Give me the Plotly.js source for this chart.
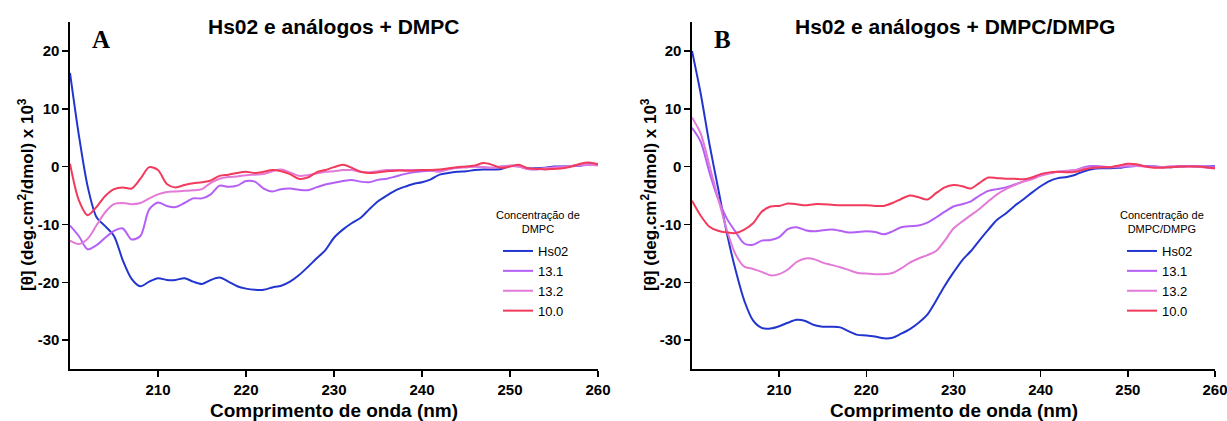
<!DOCTYPE html>
<html>
<head>
<meta charset="utf-8">
<script src="https://cdn.plot.ly/plotly-3.0.1.min.js"></script>
<style>html,body{margin:0;padding:0;background:#fff;}#chart{width:1227px;height:421px;}</style>
</head>
<body>
<div id="chart"></div>
<script>
// Wavelength (nm)
const wavelength = [200,201,202,203,204,205,206,207,208,209,210,211,212,213,214,215,216,217,218,219,220,221,222,223,224,225,226,227,228,229,230,231,232,233,234,235,236,237,238,239,240,241,242,243,244,245,246,247,248,249,250,251,252,253,254,255,256,257,258,259,260];

// Panel A: Hs02 e análogos + DMPC
const A_Hs02 = [16.2,5.5,-3.4,-8.7,-10.3,-12.0,-16.2,-19.4,-20.7,-19.9,-19.3,-19.6,-19.6,-19.3,-19.9,-20.3,-19.6,-19.2,-19.9,-20.7,-21.1,-21.3,-21.3,-20.9,-20.6,-19.9,-18.8,-17.4,-15.9,-14.5,-12.3,-10.9,-9.8,-8.9,-7.4,-6.0,-5.0,-4.1,-3.5,-3.0,-2.7,-2.2,-1.4,-1.1,-0.9,-0.8,-0.6,-0.5,-0.5,-0.4,0.1,0.1,-0.3,-0.3,-0.2,0.0,0.0,0.1,0.2,0.4,0.3];
const A_131 = [-10.2,-12.0,-14.3,-13.6,-12.3,-11.1,-10.7,-12.6,-12.0,-7.4,-6.2,-6.8,-7.0,-6.3,-5.5,-5.5,-4.8,-3.3,-3.5,-3.3,-2.5,-2.6,-3.8,-4.3,-3.9,-3.8,-4.0,-4.1,-3.6,-3.1,-2.8,-2.5,-2.3,-2.6,-2.7,-2.3,-2.1,-1.7,-1.3,-1.0,-0.8,-0.7,-0.8,-0.4,-0.2,-0.1,0.0,-0.1,-0.2,0.0,0.1,0.0,-0.4,-0.5,-0.3,-0.1,0.0,0.1,0.2,0.3,0.3];
const A_132 = [-12.8,-13.4,-12.5,-10.2,-7.9,-6.5,-6.3,-6.5,-6.3,-5.5,-4.8,-4.4,-4.3,-4.2,-4.1,-3.9,-2.8,-2.1,-1.8,-1.7,-1.5,-1.4,-1.3,-0.8,-0.5,-1.0,-1.6,-1.5,-1.2,-0.9,-0.8,-0.6,-0.6,-0.9,-1.0,-0.8,-0.6,-0.6,-0.6,-0.6,-0.6,-0.7,-0.9,-0.5,-0.2,-0.1,0.0,-0.1,-0.2,0.0,0.2,0.0,-0.4,-0.4,-0.3,-0.2,-0.1,0.1,0.3,0.3,0.2];
const A_100 = [0.5,-5.8,-8.4,-7.0,-5.1,-3.9,-3.6,-3.8,-2.1,-0.1,-0.6,-3.0,-3.6,-3.2,-2.9,-2.7,-2.4,-1.6,-1.4,-1.1,-0.9,-1.1,-0.9,-0.6,-0.8,-1.3,-2.1,-1.9,-1.0,-0.6,-0.1,0.3,-0.2,-0.9,-1.1,-1.0,-0.8,-0.7,-0.7,-0.7,-0.6,-0.6,-0.5,-0.3,-0.1,0.0,0.2,0.6,0.3,-0.2,0.0,0.3,-0.3,-0.4,-0.5,-0.4,-0.3,0.0,0.5,0.7,0.4];

// Panel B: Hs02 e análogos + DMPC/DMPG
const B_Hs02 = [20.0,12.6,3.9,-3.8,-11.5,-17.9,-23.2,-26.6,-27.9,-28.0,-27.6,-27.0,-26.5,-26.7,-27.4,-27.7,-27.7,-27.8,-28.5,-29.1,-29.2,-29.4,-29.7,-29.6,-28.9,-28.1,-27.0,-25.6,-23.2,-20.6,-18.3,-16.2,-14.6,-12.7,-10.9,-9.2,-8.1,-6.8,-5.7,-4.5,-3.4,-2.5,-2.0,-1.8,-1.4,-0.8,-0.4,-0.3,-0.3,-0.2,0.0,0.1,0.1,0.0,-0.1,-0.1,0.0,0.1,0.0,0.0,0.1];
const B_131 = [6.7,4.3,-1.0,-5.6,-9.0,-11.3,-13.3,-13.5,-12.8,-12.7,-12.2,-10.8,-10.5,-11.0,-11.2,-11.0,-10.9,-11.1,-11.4,-11.3,-11.2,-11.3,-11.7,-11.2,-10.5,-10.3,-10.2,-9.7,-8.8,-7.8,-6.9,-6.5,-6.0,-5.0,-4.2,-3.9,-3.6,-3.1,-2.6,-1.9,-1.4,-1.1,-0.9,-0.8,-0.6,-0.1,0.1,0.0,-0.1,-0.1,0.0,0.2,0.1,0.0,-0.1,0.0,0.1,0.1,0.0,0.0,0.0];
const B_132 = [8.5,5.7,0.2,-5.5,-11.0,-15.2,-17.3,-17.7,-18.2,-18.8,-18.6,-17.8,-16.5,-15.9,-16.0,-16.6,-17.0,-17.4,-17.9,-18.4,-18.5,-18.6,-18.6,-18.4,-17.6,-16.6,-15.9,-15.3,-14.6,-12.8,-10.7,-9.5,-8.4,-7.3,-6.0,-4.8,-3.9,-3.2,-2.6,-2.2,-1.6,-1.2,-0.9,-0.7,-0.6,-0.3,-0.2,-0.1,-0.1,0.1,0.2,0.1,0.0,-0.1,-0.1,0.0,0.0,0.0,0.0,-0.2,-0.3];
const B_100 = [-5.9,-8.5,-10.4,-11.1,-11.4,-11.5,-10.9,-9.8,-7.8,-6.9,-6.8,-6.4,-6.5,-6.7,-6.5,-6.5,-6.6,-6.7,-6.7,-6.7,-6.7,-6.8,-6.8,-6.3,-5.6,-5.0,-5.3,-5.7,-4.6,-3.6,-3.2,-3.4,-3.8,-2.8,-1.9,-2.0,-2.1,-2.1,-2.2,-1.9,-1.3,-1.0,-0.9,-1.0,-0.9,-0.5,-0.2,-0.1,-0.1,0.2,0.5,0.4,0.0,-0.2,-0.2,-0.1,0.0,0.0,0.0,-0.1,-0.3];

const seriesNames = ["Hs02","13.1","13.2","10.0"];
const seriesColors = ["#2236cf","#b560f5","#e47ad8","#f23a5c"];
const xTicks = [210,220,230,240,250,260];
const xTickText = ["210","220","230","240","250","260"];
const yTicks = [-30,-20,-10,0,10,20];
const yTickText = ["-30","-20","-10","0","10","20"];

const panelA = [A_Hs02, A_131, A_132, A_100];
const panelB = [B_Hs02, B_131, B_132, B_100];

const traces = [];
panelA.forEach((ys, i) => traces.push({
  x: wavelength, y: ys, type: "scatter", mode: "lines", name: seriesNames[i],
  line: {color: seriesColors[i], width: 2, shape: "spline", smoothing: 0.8},
  xaxis: "x", yaxis: "y", legend: "legend"
}));
panelB.forEach((ys, i) => traces.push({
  x: wavelength, y: ys, type: "scatter", mode: "lines", name: seriesNames[i],
  line: {color: seriesColors[i], width: 2, shape: "spline", smoothing: 0.8},
  xaxis: "x2", yaxis: "y2", legend: "legend2"
}));

const W = 1227, H = 421;
const px = v => v / W;
const py = v => 1 - v / H;

const tickFont = {family: "Liberation Sans, Arial", size: 15, color: "#000", weight: "bold"};
const axisCommon = {
  showline: true, linecolor: "#000", linewidth: 1.6, mirror: false,
  ticks: "outside", ticklen: 6, tickwidth: 1.5, tickcolor: "#000",
  showgrid: false, zeroline: false, tickfont: tickFont, fixedrange: true,
  ticklabeloverflow: "allow"
};

const legendCommon = {
  bgcolor: "rgba(0,0,0,0)", borderwidth: 0,
  font: {family: "Liberation Sans, Arial", size: 13, color: "#000"},
  xanchor: "left", yanchor: "top", tracegroupgap: 0
};

const titleFont = {family: "Liberation Sans, Arial", size: 21, color: "#000", weight: "bold"};
const axTitleFont = {family: "Liberation Sans, Arial", size: 19, color: "#000", weight: "bold"};
const labelFont = {family: "Liberation Serif, Times New Roman, serif", size: 25, color: "#000", weight: "bold"};
const legTitleFont = {family: "Liberation Sans, Arial", size: 11, color: "#000"};
const yTitleFont = {family: "Liberation Sans, Arial", size: 17, color: "#000", weight: "bold"};

const ann = (text, x, y, font, extra) => Object.assign({
  text: text, x: px(x), y: py(y), xref: "paper", yref: "paper", showarrow: false,
  xanchor: "center", yanchor: "middle", font: font
}, extra || {});

const layout = {
  width: W, height: H,
  margin: {l: 0, r: 0, t: 0, b: 0},
  paper_bgcolor: "#fff", plot_bgcolor: "#fff",
  showlegend: true,
  xaxis: Object.assign({}, axisCommon, {domain: [px(70), px(598)], range: [200, 260], tickvals: xTicks, ticktext: xTickText, anchor: "y"}),
  yaxis: Object.assign({}, axisCommon, {domain: [1 - 369/H, 1 - 22/H], range: [-35, 25], tickvals: yTicks, ticktext: yTickText, anchor: "x"}),
  xaxis2: Object.assign({}, axisCommon, {domain: [px(692), px(1215)], range: [200, 260], tickvals: xTicks, ticktext: xTickText, anchor: "y2"}),
  yaxis2: Object.assign({}, axisCommon, {domain: [1 - 369/H, 1 - 22/H], range: [-35, 25], tickvals: yTicks, ticktext: yTickText, anchor: "x2"}),
  legend: Object.assign({}, legendCommon, {x: px(498), y: py(236)}),
  legend2: Object.assign({}, legendCommon, {x: px(1122), y: py(236)}),
  annotations: [
    ann("Hs02 e análogos + DMPC", 334, 27, titleFont),
    ann("Hs02 e análogos + DMPC/DMPG", 955, 27, titleFont),
    ann("A", 101, 40, labelFont),
    ann("B", 722, 40, labelFont),
    ann("Comprimento de onda (nm)", 334, 410, axTitleFont),
    ann("Comprimento de onda (nm)", 954, 410, axTitleFont),
    ann("[θ] (deg.cm<sup>2</sup>/dmol) x 10<sup>3</sup>", 26, 195, yTitleFont, {textangle: -90}),
    ann("[θ] (deg.cm<sup>2</sup>/dmol) x 10<sup>3</sup>", 649, 195, yTitleFont, {textangle: -90}),
    ann("Concentração de<br>DMPC", 538, 222, legTitleFont, {align: "center"}),
    ann("Concentração de<br>DMPC/DMPG", 1162, 222, legTitleFont, {align: "center"})
  ]
};

Plotly.newPlot("chart", traces, layout, {displayModeBar: false, staticPlot: true});
</script>
</body>
</html>
